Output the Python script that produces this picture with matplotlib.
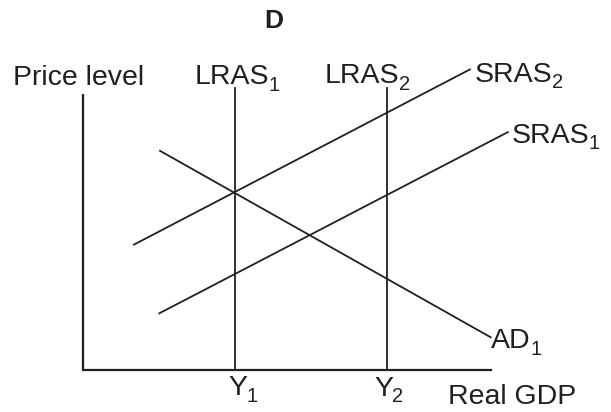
import matplotlib
matplotlib.use('Agg')
import matplotlib.pyplot as plt

plt.rcParams['font.family'] = ['Liberation Sans', 'DejaVu Sans']

ink = '#231f20'

# diagram values (arbitrary units, origin at the axes corner)
gdp_max = 10.0
price_max = 10.0
y1 = 3.73
y2 = 7.45
lras_top = 10.24
sras1_x = [1.87, 10.42]
sras1_y = [2.06, 8.65]
sras2_x = [1.25, 9.49]
sras2_y = [4.56, 10.93]
ad1_x = [1.89, 10.0]
ad1_y = [7.97, 1.19]

# labels: (main text, subscript, left x, baseline y)
labels = [
    ('Price level', '', -1.724, 10.36),
    ('LRAS', '1', 2.747, 10.40),
    ('LRAS', '2', 5.936, 10.44),
    ('SRAS', '2', 9.615, 10.48),
    ('SRAS', '1', 10.52, 8.27),
    ('AD', '1', 10.01, 0.80),
    ('Y', '1', 3.57, -0.91),
    ('Y', '2', 7.14, -0.93),
    ('Real GDP', '', 8.953, -1.236),
]

fig = plt.figure(figsize=(6.11, 4.12), dpi=100)
ax = fig.add_axes([0, 0, 1, 1])
ax.set_xlim(-2.036, 12.951)
ax.set_ylim(-1.527, 13.455)
ax.axis('off')

# axes of the diagram
ax.plot([0, 0, gdp_max], [price_max, 0, 0], color=ink, lw=1.6, solid_joinstyle='miter')

# long run supply
ax.plot([y1, y1], [0, lras_top], color=ink, lw=1.3)
ax.plot([y2, y2], [0, lras_top], color=ink, lw=1.3)

# short run supply and demand
ax.plot(sras1_x, sras1_y, color=ink, lw=1.3)
ax.plot(sras2_x, sras2_y, color=ink, lw=1.3)
ax.plot(ad1_x, ad1_y, color=ink, lw=1.3)

ax.text(4.685, 12.425, 'D', fontsize=19, fontweight='bold', color=ink,
        ha='center', va='baseline')

for main, sub, lx, ly in labels:
    t = ax.text(lx, ly, main, fontsize=20.5, color=ink, va='baseline', ha='left')
    if sub:
        ax.annotate(sub, xy=(1, ly), xycoords=(t, 'data'),
                    xytext=(-0.5, -4.8), textcoords='offset points',
                    fontsize=14.5, color=ink, va='baseline', ha='left')

fig.savefig('out.png', dpi=100)
